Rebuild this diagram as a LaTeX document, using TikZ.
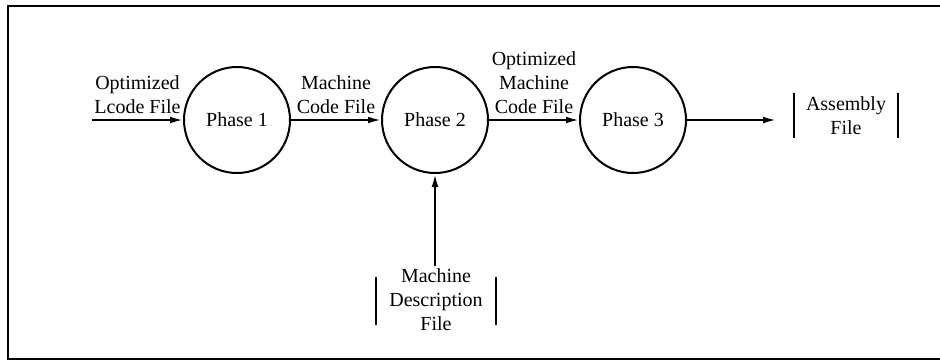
\documentclass[tikz,border=0pt]{standalone}
\usepackage{fontspec}
\setmainfont{Liberation Serif}
\usetikzlibrary{arrows.meta,positioning}

\tikzset{
    phase/.style={draw, circle, line width=1pt, minimum size=53pt, inner sep=0pt},
    flow/.style={-{Latex[length=6.5pt,width=3.4pt]}, line width=1pt},
    lbl/.style={above=1pt, align=center, inner sep=1.5pt},
    filebox/.style={align=center, inner sep=0pt},
    bar/.style={line width=1pt}
}

\begin{document}
\begin{tikzpicture}[x=0.5pt, y=-0.5pt]
    \useasboundingbox (0,0) rectangle (940,360);
    \draw[line width=1pt] (945,6) -- (8,6) -- (8,359) -- (945,359);

    \node[phase] (phaseone) at (237,120) {Phase 1};
    \node[phase] (phasetwo) at (435,120) {Phase 2};
    \node[phase] (phasethree) at (633,120) {Phase 3};

    \node[filebox, minimum width=51.5pt] (asmfile) at (846,116) {Assembly\\File};
    \node[filebox, minimum width=60pt] (mdfile) at (436,300) {Machine\\Description\\File};

    % file bars
    \draw[bar] ([yshift=11.5pt]asmfile.west) -- ([yshift=-11pt]asmfile.west);
    \draw[bar] ([yshift=11.5pt]asmfile.east) -- ([yshift=-11pt]asmfile.east);
    \draw[bar] ([yshift=11.5pt]mdfile.west) -- ([yshift=-12.5pt]mdfile.west);
    \draw[bar] ([yshift=11.5pt]mdfile.east) -- ([yshift=-12.5pt]mdfile.east);

    \coordinate (lcodein) at (92,120);

    \draw[flow] (lcodein) -- node[lbl] {Optimized\\Lcode File} (phaseone);
    \draw[flow] (phaseone) -- node[lbl] {Machine\\Code File} (phasetwo);
    \draw[flow] (phasetwo) -- node[lbl] {Optimized\\Machine\\Code File} (phasethree);
    \draw[flow, shorten >=9pt] (phasethree) -- (phasethree -| asmfile.west);
    \draw[flow, shorten <=1.5pt] (mdfile.north -| phasetwo) -- (phasetwo);
\end{tikzpicture}
\end{document}
